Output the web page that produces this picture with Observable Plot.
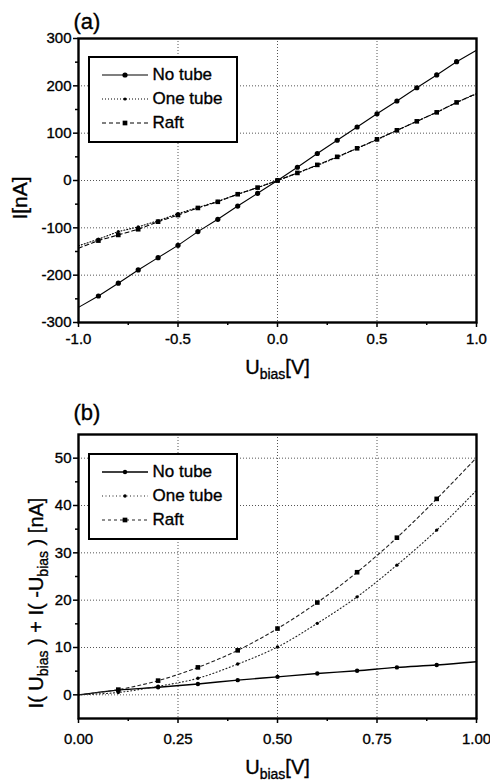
<!DOCTYPE html>
<html>
<head>
<meta charset="utf-8">
<script src="https://cdn.jsdelivr.net/npm/d3@7"></script>
<script src="https://cdn.jsdelivr.net/npm/@observablehq/plot@0.6"></script>
<style>
  body { margin: 0; background: #fff; }
  #wrap { position: relative; width: 490px; height: 781px; overflow: hidden;
          font-family: "Liberation Sans", Arial, Helvetica, sans-serif; background: #fff; }
  .panel { position: absolute; left: 0; }
  .panel svg text { stroke: #000; stroke-width: 0.35px; }
  .legend { position: absolute; border: 2.5px solid #000; background: #fff; box-sizing: border-box; }
  .legend .row { position: absolute; left: 0; width: 100%; height: 20px; }
  .legend .row svg { position: absolute; top: 0; }
  .legend .row span { position: absolute; font-size: 17px; line-height: 20px; top: 0; color: #000;
                      -webkit-text-stroke: 0.35px #000; }
</style>
</head>
<body>
<div id="wrap"></div>
<script>
// ---------- data ----------
const seriesNames = ["No tube", "One tube", "Raft"];

// Panel (a): I–V curves
const xA = [-1.0, -0.9, -0.8, -0.7, -0.6, -0.5, -0.4, -0.3, -0.2, -0.1, 0.0,
            0.1, 0.2, 0.3, 0.4, 0.5, 0.6, 0.7, 0.8, 0.9, 1.0];
const noTubeA  = [-268, -244, -217, -189, -163, -137, -108, -82, -54, -27, 0,
                  28, 57, 85, 113, 141, 168, 196, 223, 251, 275];
const oneTubeA = [-138, -124, -108, -98, -85, -70, -57, -44, -29, -15, 0,
                  15.5, 32, 49, 68, 86, 106, 125, 144, 165, 183];
const raftA    = [-143, -127, -115, -103, -87, -73, -58, -45, -29, -15, 0,
                  16, 33, 50, 68, 87, 106, 125, 144, 165, 184];

// Panel (b): I(U) + I(-U)
const xB = [0.0, 0.1, 0.2, 0.3, 0.4, 0.5, 0.6, 0.7, 0.8, 0.9, 1.0];
const noTubeB  = [0, 1.0, 1.6, 2.3, 3.1, 3.8, 4.5, 5.1, 5.8, 6.3, 7.0];
const oneTubeB = [0, 0.5, 1.8, 3.5, 6.5, 10.1, 15.1, 20.7, 27.4, 34.8, 43.2];
const raftB    = [0, 1.1, 3.0, 5.8, 9.4, 14.0, 19.5, 25.9, 33.2, 41.4, 50.1];

// ticks
const xTicksA = [-1.0, -0.5, 0.0, 0.5, 1.0];
const xMinorA = [-0.75, -0.25, 0.25, 0.75];
const yTicksA = [-300, -200, -100, 0, 100, 200, 300];
const yMinorA = [-250, -150, -50, 50, 150, 250];
const xTicksB = [0.0, 0.25, 0.5, 0.75, 1.0];
const xMinorB = [0.125, 0.375, 0.625, 0.875];
const yTicksB = [0, 10, 20, 30, 40, 50];
const yMinorB = [5, 15, 25, 35, 45];

// ---------- styles ----------
const styleA = {
  "No tube":  {dash: null,  width: 1.1, r: 2.6, symbol: "circle", stroke: "#000"},
  "One tube": {dash: "1,2", width: 1.1, r: 1.6, symbol: "circle", stroke: "#000"},
  "Raft":     {dash: "4,3", width: 1.1, r: 2.6, symbol: "square", stroke: "#000"}
};
const styleB = {
  "No tube":  {dash: null,  width: 1.4, r: 2.2, symbol: "circle", stroke: "#000"},
  "One tube": {dash: "1,2.5", width: 1.1, r: 1.7, symbol: "circle", stroke: "#222"},
  "Raft":     {dash: "3,3", width: 1.1, r: 2.6, symbol: "square", stroke: "#222"}
};

function rows(xs, ys, s) { return xs.map((x, i) => ({x, y: ys[i], s})); }

const FONT = '"Liberation Sans", Arial, Helvetica, sans-serif';

function makePanel(cfg) {
  const marks = [
    Plot.gridX(cfg.xGrid, {stroke: "#555", strokeOpacity: 1, strokeDasharray: "1,2", strokeWidth: 1}),
    Plot.gridY(cfg.yGrid, {stroke: "#555", strokeOpacity: 1, strokeDasharray: "1,2", strokeWidth: 1})
  ];
  cfg.series.forEach(({name, data}) => {
    const st = cfg.styles[name];
    marks.push(Plot.line(data, {x: "x", y: "y", stroke: st.stroke, strokeWidth: st.width,
                                strokeDasharray: st.dash, curve: cfg.curve}));
  });
  cfg.series.forEach(({name, data}) => {
    const st = cfg.styles[name];
    marks.push(Plot.dot(data.filter(cfg.markerFilter), {x: "x", y: "y", r: st.r, symbol: st.symbol,
                                fill: "#000", stroke: "none"}));
  });
  marks.push(
    Plot.axisX(cfg.xTicks, {tickSize: 5, tickPadding: cfg.xPad, tickFormat: cfg.xFmt, label: null, strokeWidth: 1.5, fontSize: 15}),
    Plot.axisX(cfg.xMinor, {tickSize: 3, fill: "none", label: null, strokeWidth: 1.5}),
    Plot.axisY(cfg.yTicks, {tickSize: 5, tickPadding: 2, tickFormat: d => String(d), label: null, strokeWidth: 1.5, fontSize: 15}),
    Plot.axisY(cfg.yMinor, {tickSize: 3, fill: "none", label: null, strokeWidth: 1.5}),
    Plot.frame({stroke: "#000", strokeWidth: 2.4})
  );
  const svg = Plot.plot({
    width: 490, height: cfg.height,
    marginLeft: 78, marginRight: 14, marginTop: cfg.mt, marginBottom: cfg.mb,
    x: {domain: cfg.xDomain},
    y: {domain: cfg.yDomain},
    style: {fontFamily: FONT, fontSize: "15px", color: "#000", background: "#fff", overflow: "visible"},
    marks
  });
  return svg;
}

function addText(svg, parts, attrs) {
  const t = d3.select(svg).append("text")
    .attr("font-family", FONT).attr("fill", "#000").style("white-space", "pre");
  Object.entries(attrs).forEach(([k, v]) => t.attr(k, v));
  let shifted = false;
  parts.forEach(p => {
    const ts = t.append("tspan").text(p.t);
    if (p.sub) { ts.attr("font-size", p.sub).attr("dy", 5); shifted = true; }
    else if (shifted) { ts.attr("dy", -5); shifted = false; }
  });
  return t;
}

function makeLegend(left, top, styles) {
  const box = document.createElement("div");
  box.className = "legend";
  const B = 2.5;
  box.style.left = left + "px"; box.style.top = top + "px";
  box.style.width = "150px"; box.style.height = "87px";
  const rowCenters = [19, 43, 67];
  seriesNames.forEach((name, i) => {
    const st = styles[name];
    const row = document.createElement("div");
    row.className = "row";
    row.style.top = (rowCenters[i] - 10 - B) + "px";
    const ns = "http://www.w3.org/2000/svg";
    const s = document.createElementNS(ns, "svg");
    s.setAttribute("width", 46); s.setAttribute("height", 20);
    s.style.left = (14 - B) + "px";
    const ln = document.createElementNS(ns, "line");
    ln.setAttribute("x1", 0); ln.setAttribute("x2", 46); ln.setAttribute("y1", 10); ln.setAttribute("y2", 10);
    ln.setAttribute("stroke", st.stroke); ln.setAttribute("stroke-width", st.width);
    if (st.dash) ln.setAttribute("stroke-dasharray", st.dash);
    s.appendChild(ln);
    let mk;
    if (st.symbol === "square") {
      mk = document.createElementNS(ns, "rect");
      const h = st.r * 0.9;
      mk.setAttribute("x", 23 - h); mk.setAttribute("y", 10 - h);
      mk.setAttribute("width", 2 * h); mk.setAttribute("height", 2 * h);
    } else {
      mk = document.createElementNS(ns, "circle");
      mk.setAttribute("cx", 23); mk.setAttribute("cy", 10); mk.setAttribute("r", st.r);
    }
    mk.setAttribute("fill", "#000");
    s.appendChild(mk);
    row.appendChild(s);
    const sp = document.createElement("span");
    sp.textContent = name;
    sp.style.left = (65 - B) + "px";
    row.appendChild(sp);
    box.appendChild(row);
  });
  return box;
}

const wrap = document.getElementById("wrap");

// ---- panel (a) ----
const seriesA = [
  {name: "No tube", data: rows(xA, noTubeA, "No tube")},
  {name: "One tube", data: rows(xA, oneTubeA, "One tube")},
  {name: "Raft", data: rows(xA, raftA, "Raft")}
];
const svgA = makePanel({
  height: 390, mt: 38, mb: 68,
  xDomain: [-1, 1], yDomain: [-300, 300],
  xTicks: xTicksA, xMinor: xMinorA, yTicks: yTicksA, yMinor: yMinorA,
  xGrid: [-0.5, 0, 0.5], yGrid: [-200, -100, 0, 100, 200],
  xFmt: d => d.toFixed(1), xPad: 6,
  series: seriesA, styles: styleA, curve: "linear",
  markerFilter: d => d.x > -1 && d.x < 1
});
addText(svgA, [{t: "(a)"}], {x: 87, y: 29, "font-size": 22});
addText(svgA, [{t: "U"}, {t: "bias", sub: 14}, {t: "[V]"}], {x: 277.5, y: 374, "font-size": 20, "text-anchor": "middle"});
addText(svgA, [{t: "I[nA]"}], {transform: "translate(27,198) rotate(-90)", "font-size": 21, "text-anchor": "middle"});
const divA = document.createElement("div");
divA.className = "panel"; divA.style.top = "0px";
divA.appendChild(svgA);
wrap.appendChild(divA);
wrap.appendChild(makeLegend(88, 56, styleA));

// ---- panel (b) ----
const seriesB = [
  {name: "No tube", data: rows(xB, noTubeB, "No tube")},
  {name: "One tube", data: rows(xB, oneTubeB, "One tube")},
  {name: "Raft", data: rows(xB, raftB, "Raft")}
];
const svgB = makePanel({
  height: 391, mt: 44, mb: 63,
  xDomain: [0, 1], yDomain: [-5, 55],
  xTicks: xTicksB, xMinor: xMinorB, yTicks: yTicksB, yMinor: yMinorB,
  xGrid: [0.25, 0.5, 0.75], yGrid: [0, 10, 20, 30, 40, 50],
  xFmt: d => d.toFixed(2), xPad: 10,
  series: seriesB, styles: styleB, curve: "catmull-rom",
  markerFilter: d => d.x > 0 && d.x < 1
});
addText(svgB, [{t: "(b)"}], {x: 87, y: 30, "font-size": 22});
addText(svgB, [{t: "U"}, {t: "bias", sub: 14}, {t: "[V]"}], {x: 277.5, y: 384, "font-size": 20, "text-anchor": "middle"});
addText(svgB, [{t: "I( U"}, {t: "bias", sub: 14}, {t: " ) + I( -U"}, {t: "bias", sub: 14}, {t: " ) [nA]"}],
        {transform: "translate(43,213) rotate(-90)", "font-size": 20, "text-anchor": "middle"});
const divB = document.createElement("div");
divB.className = "panel"; divB.style.top = "390px";
divB.appendChild(svgB);
wrap.appendChild(divB);
wrap.appendChild(makeLegend(88, 453, styleB));
</script>
</body>
</html>
